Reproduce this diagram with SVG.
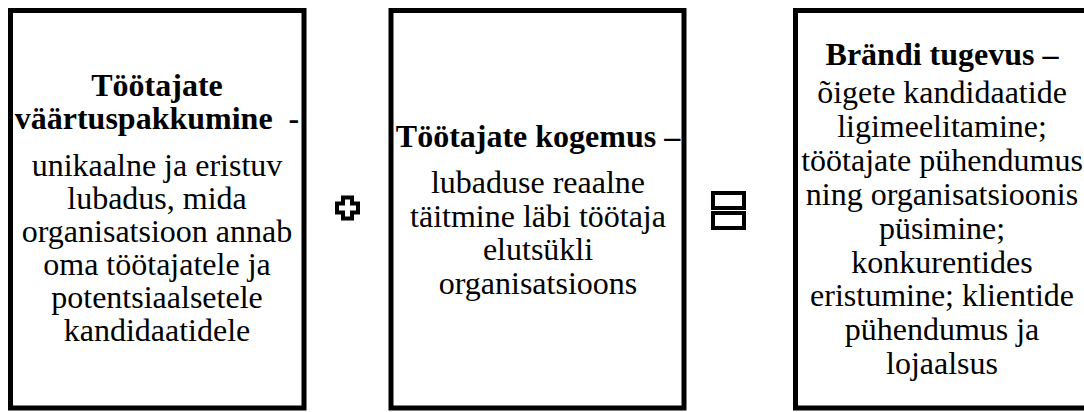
<svg xmlns="http://www.w3.org/2000/svg" width="1084" height="412" viewBox="0 0 1084 412">
  <style>
    .box { fill: #ffffff; stroke: #000000; stroke-width: 5; }
    .sym { fill: #ffffff; stroke: #000000; stroke-width: 4; stroke-linejoin: miter; }
    text { font-family: "Liberation Serif", "Times New Roman", serif; font-size: 32px; fill: #000000; text-anchor: middle; }
    .b { font-weight: bold; }
  </style>
  <rect x="0" y="0" width="1084" height="412" fill="#ffffff"/>

  <!-- employee value proposition -->
  <g id="node-value">
    <rect class="box" x="10.5" y="10.5" width="293.5" height="397.5"/>
    <text class="b" x="157" y="96">Töötajate</text>
    <text class="b" x="157" y="129" xml:space="preserve">väärtuspakkumine  -</text>
    <text x="157" y="176">unikaalne ja eristuv</text>
    <text x="157" y="209">lubadus, mida</text>
    <text x="157" y="242">organisatsioon annab</text>
    <text x="157" y="275">oma töötajatele ja</text>
    <text x="157" y="308">potentsiaalsetele</text>
    <text x="157" y="341">kandidaatidele</text>
  </g>

  <!-- employee experience -->
  <g id="node-experience">
    <rect class="box" x="391" y="10.5" width="293" height="397.5"/>
    <text class="b" x="538" y="147">Töötajate kogemus –</text>
    <text x="538" y="193">lubaduse reaalne</text>
    <text x="538" y="227">täitmine läbi töötaja</text>
    <text x="538" y="260">elutsükli</text>
    <text x="538" y="294">organisatsioons</text>
  </g>

  <!-- brand strength -->
  <g id="node-brand">
    <rect class="box" x="795.5" y="10.5" width="293.5" height="397.5"/>
    <text class="b" x="942" y="65">Brändi tugevus –</text>
    <text x="942" y="103">õigete kandidaatide</text>
    <text x="942" y="137">ligimeelitamine;</text>
    <text x="942" y="171">töötajate pühendumus</text>
    <text x="942" y="205">ning organisatsioonis</text>
    <text x="942" y="239">püsimine;</text>
    <text x="942" y="273">konkurentides</text>
    <text x="942" y="306">eristumine; klientide</text>
    <text x="942" y="340">pühendumus ja</text>
    <text x="942" y="374">lojaalsus</text>
  </g>

  <!-- operators between the boxes -->
  <g id="connectors">
    <polygon class="sym" points="343,197.5 352,197.5 352,203.5 358,203.5 358,212.5 352,212.5 352,218.5 343,218.5 343,212.5 337,212.5 337,203.5 343,203.5"/>
    <rect class="sym" x="713" y="193" width="31" height="15"/>
    <rect class="sym" x="713" y="213" width="31" height="15"/>
  </g>
</svg>
